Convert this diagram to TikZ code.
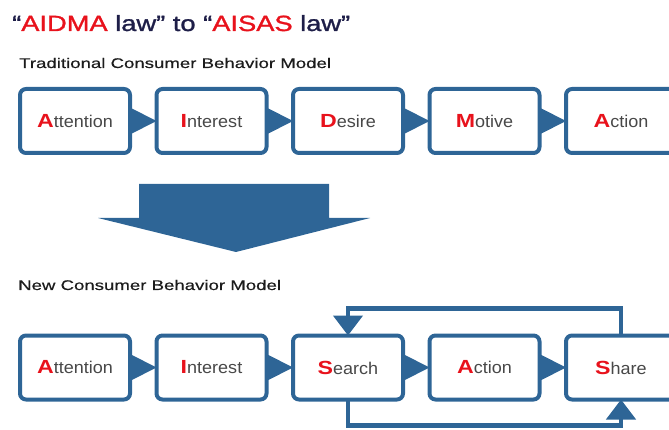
\documentclass[tikz,border=0pt]{standalone}
\usepackage{fontspec}
\setmainfont{Liberation Sans}
\newfontfamily\headfont[FakeStretch=1.24, FakeBold=1.3]{Liberation Sans}
\newfontfamily\subfont[FakeStretch=1.33, FakeBold=0.5]{Liberation Sans}
\newfontfamily\labelfont[FakeStretch=1.06]{Liberation Sans}
\newfontfamily\initfont[FakeStretch=1.22]{Liberation Sans Bold}
\usepackage{tikz}
\usetikzlibrary{arrows.meta}
\usetikzlibrary{calc}
\definecolor{boxblue}{RGB}{46,101,150}
\definecolor{keyred}{RGB}{232,18,28}
\definecolor{headnavy}{RGB}{30,30,72}
\definecolor{subblack}{RGB}{28,28,28}
\definecolor{labelgray}{RGB}{72,72,72}
\newcommand{\stage}[2]{{\initfont\fontsize{19}{19}\selectfont\color{keyred}#1}{\labelfont\fontsize{17}{17}\selectfont#2}}

\begin{document}
\begin{tikzpicture}[x=1pt, y=-1pt,
		stagebox/.style={draw=boxblue, line width=4pt, rounded corners=6pt, fill=white, minimum width=110pt, minimum height=64pt, inner sep=0pt, outer sep=0pt, text=labelgray},
		loopline/.style={draw=boxblue, line width=4.5pt},
		loophead/.style={-{Triangle[length=20pt, width=29pt]}}]
			\useasboundingbox (0, 0) rectangle (669, 430);
			% Headings:
			\node[anchor=base west, inner sep=0pt, text=headnavy](H1) at (12, 31){\headfont\fontsize{22}{22}\selectfont “{\color{keyred}AIDMA} law” to “{\color{keyred}AISAS} law”};
			\node[anchor=base west, inner sep=0pt, text=subblack](H2) at (19, 68){\subfont\fontsize{14}{14}\selectfont Traditional Consumer Behavior Model};
			\node[anchor=base west, inner sep=0pt, text=subblack](H3) at (18, 290){\subfont\fontsize{14}{14}\selectfont New Consumer Behavior Model};
			% Traditional model, boxes and arrows:
			\node[stagebox](T1) at (75, 121){\stage{A}{ttention}};
			\node[stagebox](T2) at (211.5, 121){\stage{I}{nterest}};
			\node[stagebox](T3) at (348, 121){\stage{D}{esire}};
			\node[stagebox](T4) at (484.5, 121){\stage{M}{otive}};
			\node[stagebox](T5) at (621, 121){\stage{A}{ction}};
			\fill[boxblue] ($(T1.east)+(0, -13.5)$) -- (T2.west) -- ($(T1.east)+(0, 13.5)$) -- cycle;
			\fill[boxblue] ($(T2.east)+(0, -13.5)$) -- (T3.west) -- ($(T2.east)+(0, 13.5)$) -- cycle;
			\fill[boxblue] ($(T3.east)+(0, -13.5)$) -- (T4.west) -- ($(T3.east)+(0, 13.5)$) -- cycle;
			\fill[boxblue] ($(T4.east)+(0, -13.5)$) -- (T5.west) -- ($(T4.east)+(0, 13.5)$) -- cycle;
			% Big arrow down:
			\fill[boxblue] (139, 184) -- (329, 184) -- (329, 218) -- (370, 218) -- (236, 252) -- (98, 218) -- (139, 218) -- cycle;
			% New model, boxes and arrows:
			\node[stagebox](N1) at (75, 367.5){\stage{A}{ttention}};
			\node[stagebox](N2) at (211.5, 367.5){\stage{I}{nterest}};
			\node[stagebox](N3) at (348, 367.5){\stage{S}{earch}};
			\node[stagebox](N4) at (484.5, 367.5){\stage{A}{ction}};
			\node[stagebox](N5) at (621, 367.5){\stage{S}{hare}};
			\fill[boxblue] ($(N1.east)+(0, -13.5)$) -- (N2.west) -- ($(N1.east)+(0, 13.5)$) -- cycle;
			\fill[boxblue] ($(N2.east)+(0, -13.5)$) -- (N3.west) -- ($(N2.east)+(0, 13.5)$) -- cycle;
			\fill[boxblue] ($(N3.east)+(0, -13.5)$) -- (N4.west) -- ($(N3.east)+(0, 13.5)$) -- cycle;
			\fill[boxblue] ($(N4.east)+(0, -13.5)$) -- (N5.west) -- ($(N4.east)+(0, 13.5)$) -- cycle;
			% Feedback loops:
			\draw[loopline, loophead] (N5.north) -- ++(0, -27) -| (N3.north);
			\draw[loopline, loophead] (N3.south) -- ++(0, 26) -| (N5.south);
		\end{tikzpicture}
\end{document}
